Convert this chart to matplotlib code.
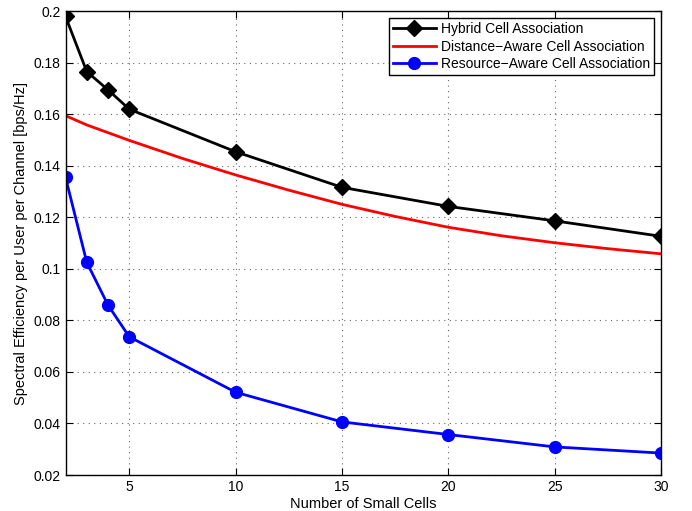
import matplotlib.pyplot as plt

plt.rcParams['font.family'] = ['Liberation Sans', 'DejaVu Sans']

# Data
x_cells = [2, 3, 4, 5, 10, 15, 20, 25, 30]
hybrid = [0.1979, 0.1765, 0.1694, 0.1619, 0.1454, 0.1316, 0.1242, 0.1186, 0.1126]
resource = [0.1355, 0.1025, 0.0859, 0.0736, 0.0521, 0.0406, 0.0357, 0.0309, 0.0285]
x_dist = [2, 3, 4, 5, 7.5, 10, 12.5, 15, 17.5, 20, 22.5, 25, 27.5, 30]
distance = [0.1594, 0.1558, 0.1528, 0.1498, 0.1428, 0.1364, 0.1305, 0.1250,
            0.1203, 0.1161, 0.1128, 0.1101, 0.1078, 0.1058]

yticks = [0.02, 0.04, 0.06, 0.08, 0.1, 0.12, 0.14, 0.16, 0.18, 0.2]
ytick_labels = ['0.02', '0.04', '0.06', '0.08', '0.1', '0.12', '0.14', '0.16', '0.18', '0.2']
xticks = [5, 10, 15, 20, 25, 30]

fig = plt.figure(figsize=(6.92, 5.11), dpi=100)
ax = fig.add_axes([65.5 / 692, 1 - 475 / 511, (661 - 65.5) / 692, (475 - 11) / 511])

ax.plot(x_cells, hybrid, color='k', lw=2, marker='D', ms=8, label='Hybrid Cell Association')
ax.plot(x_dist, distance, color='r', lw=2, label='Distance\u2212Aware Cell Association')
ax.plot(x_cells, resource, color='b', lw=2, marker='o', ms=8.5, label='Resource\u2212Aware Cell Association')

ax.set_xlim(2, 30)
ax.set_ylim(0.02, 0.2)
ax.set_xticks(xticks)
ax.set_yticks(yticks)
ax.set_yticklabels(ytick_labels)
ax.tick_params(direction='in', labelsize=10, top=True, right=True, length=5, width=0.8)
ax.grid(True, linestyle=(0, (1, 4)), color='#666666', lw=0.8)
for s in ax.spines.values():
    s.set_linewidth(1.0)

ax.set_xlabel('Number of Small Cells', fontsize=10.5, labelpad=2)
ax.set_ylabel('Spectral Efficiency per User per Channel [bps/Hz]', fontsize=10.5, labelpad=4)

leg = ax.legend(loc='upper right', fontsize=10, fancybox=False, edgecolor='k',
                framealpha=1, handlelength=3.1, borderpad=0.3, labelspacing=0.25,
                borderaxespad=0.5, handletextpad=0.35)
leg.get_frame().set_linewidth(1.0)

plt.savefig('out.png', dpi=100)
